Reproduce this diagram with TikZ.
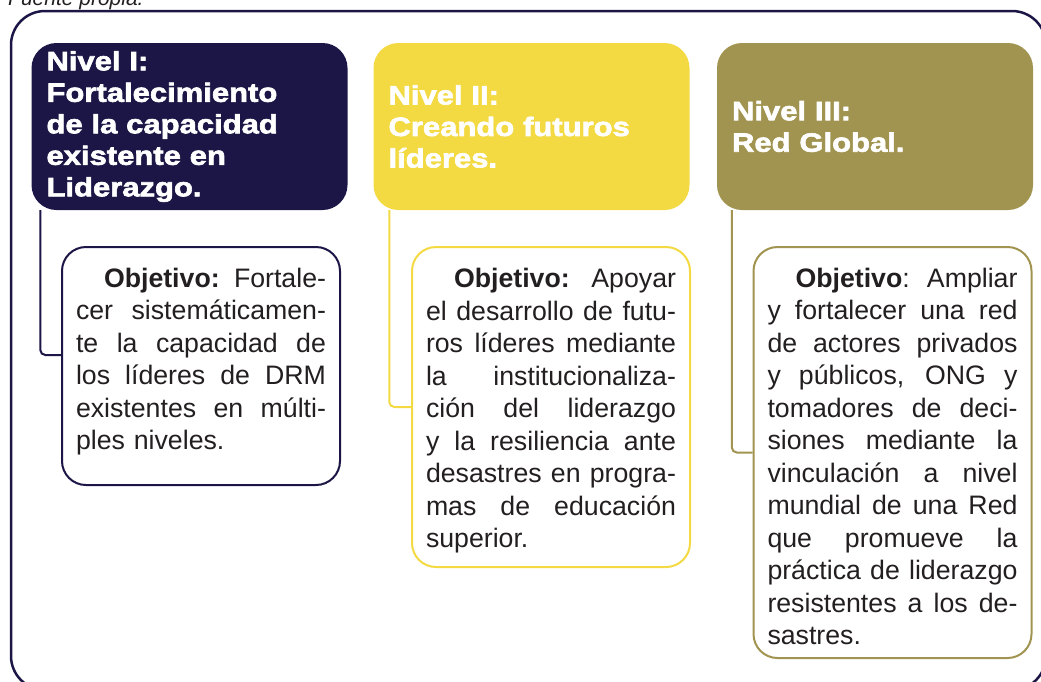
\documentclass[tikz,border=0pt]{standalone}
\usepackage{fontspec}
\setmainfont{Liberation Sans}
\newfontfamily\nivelfont{Liberation Sans Bold}[FakeBold=2.4, FakeStretch=1.17]
\usepackage{xcolor}
\usepackage{tikz}
\usetikzlibrary{positioning,calc}

\definecolor{navy}{RGB}{27,22,69}
\definecolor{amarillo}{RGB}{243,217,66}
\definecolor{oliva}{RGB}{161,148,80}
\definecolor{texto}{RGB}{35,31,32}

% one justified line of an objective text
\newcommand{\jl}[1]{\makebox[250pt][s]{\spaceskip=.278em plus 1em\xspaceskip=.278em plus 1em#1}\\}

\begin{document}
\begin{tikzpicture}[x=1pt, y=-1pt,
   nivel/.style={rounded corners=25pt, minimum width=316pt, minimum height=167pt,
      text width=286pt, inner xsep=15pt, align=left, text=white,
      font=\fontsize{26.5}{31.5}\selectfont\nivelfont},
   objetivo/.style={draw, line width=2pt, rounded corners=24pt, fill=white,
      text width=250pt, inner xsep=14pt, align=left, text=texto,
      font=\fontsize{26.7}{32.5}\selectfont},
   enlace/.style={line width=2pt, rounded corners=5pt}]
   \useasboundingbox (0,0) rectangle (1041,681);

   % Marco
   \draw[navy, line width=2.5pt, rounded corners=34pt] (11,11) rectangle (1046,690);
   \node[anchor=base west, text=texto, font=\fontsize{21}{21}\selectfont\itshape, inner sep=0pt]
      (fuente) at (8,5) {Fuente propia.};

   % Nivel I
   \node at (189.5,126.5) [nivel, fill=navy] (n1)
      {Nivel I:\\Fortalecimiento\\de la capacidad\\existente en\\Liderazgo.};
   \node at (201,366) [objetivo, draw=navy, minimum height=238pt] (o1)
      {\jl{\hspace*{28pt}\textbf{Objetivo:} Fortale-}%
       \jl{cer sistemáticamen-}%
       \jl{te la capacidad de}%
       \jl{los líderes de DRM}%
       \jl{existentes en múlti-}%
       ples niveles.\par\vspace*{9pt}};
   \draw[enlace, navy] ([xshift=9pt]n1.south west) |- ([yshift=11pt]o1.west);

   % Nivel II
   \node at (531.5,126.5) [nivel, fill=amarillo] (n2)
      {Nivel II:\\Creando futuros\\líderes.};
   \node at (551,407) [objetivo, draw=amarillo, minimum height=320pt] (o2)
      {\jl{\rule{0pt}{27.5pt}\hspace*{28pt}\textbf{Objetivo:} Apoyar}%
       \jl{el desarrollo de futu-}%
       \jl{ros líderes mediante}%
       \jl{la institucionaliza-}%
       \jl{ción del liderazgo}%
       \jl{y la resiliencia ante}%
       \jl{desastres en progra-}%
       \jl{mas de educación}%
       superior.};
   \draw[enlace, amarillo] ([xshift=16pt]n2.south west) |- (o2.west);

   % Nivel III
   \node at (875,126.5) [nivel, fill=oliva] (n3)
      {Nivel III:\\Red Global.};
   \node at (892.5,452.5) [objetivo, draw=oliva, minimum height=411pt] (o3)
      {\jl{\rule{0pt}{27.5pt}\hspace*{28pt}\textbf{Objetivo}: Ampliar}%
       \jl{y fortalecer una red}%
       \jl{de actores privados}%
       \jl{y públicos, ONG y}%
       \jl{tomadores de deci-}%
       \jl{siones mediante la}%
       \jl{vinculación a nivel}%
       \jl{mundial de una Red}%
       \jl{que promueve la}%
       \jl{práctica de liderazgo}%
       \jl{resistentes a los de-}%
       sastres.};
   \draw[enlace, oliva] ([xshift=15pt]n3.south west) |- (o3.west);

\end{tikzpicture}
\end{document}
